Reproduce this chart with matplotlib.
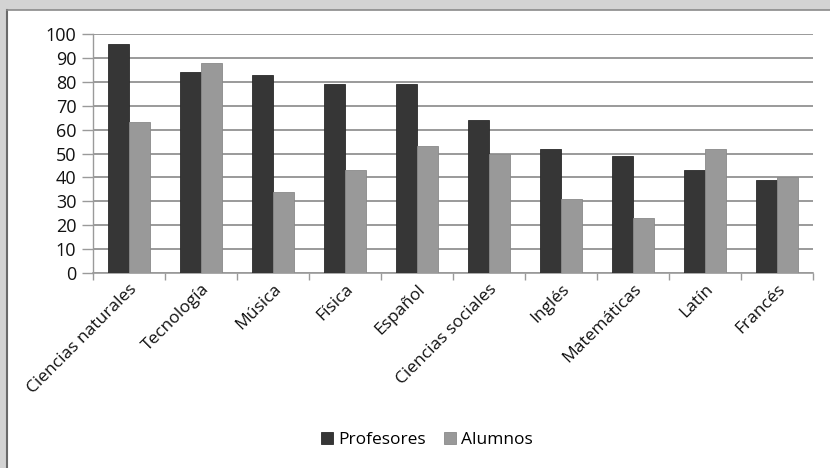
import matplotlib
matplotlib.use("Agg")
import matplotlib.pyplot as plt
import numpy as np
from matplotlib.patches import Rectangle
from matplotlib.lines import Line2D

categories = ["Ciencias naturales", "Tecnología", "Música", "Física", "Español",
              "Ciencias sociales", "Inglés", "Matemáticas", "Latín", "Francés"]
profesores = [96, 84, 83, 79, 79, 64, 52, 49, 43, 39]
alumnos = [63, 88, 34, 43, 53, 50, 31, 23, 52, 40]
yticks = list(range(0, 101, 10))

plt.rcParams['font.family'] = ['Open Sans', 'DejaVu Sans']

W, H = 830, 468
fig = plt.figure(figsize=(W/100, H/100), dpi=100)
fig.patch.set_facecolor('#d3d3d3')
# white panel
fig.patches.append(Rectangle((7/W, 0), 1 - 7/W, 1 - 10/H, transform=fig.transFigure,
                             facecolor='white', edgecolor='none', zorder=-10))
fig.lines.append(Line2D([7/W, 7/W], [0, 1 - 10/H], transform=fig.transFigure,
                        color='#6a6a6a', linewidth=1.5, zorder=-9))
fig.lines.append(Line2D([7/W, 1], [1 - 10/H, 1 - 10/H], transform=fig.transFigure,
                        color='#8a8a8a', linewidth=1.2, zorder=-9))

ax = fig.add_axes([93/W, 1 - 273/H, 720/W, 239/H])
ax.set_zorder(5)
ax.set_facecolor('none')
x = np.arange(len(categories))
bw = 0.29
ax.bar(x - bw/2, profesores, bw, color='#363636', edgecolor='#2a2a2a', linewidth=0.6,
       label='Profesores', zorder=3)
ax.bar(x + bw/2, alumnos, bw, color='#999999', edgecolor='#8a8a8a', linewidth=0.6,
       label='Alumnos', zorder=3)

ax.set_xlim(-0.5, len(categories) - 0.5)
ax.set_ylim(0, 100)
ax.set_yticks(yticks)
ax.set_yticklabels([str(v) for v in yticks], fontsize=13, color='#111111')
ax.yaxis.grid(True, color='#9a9a9a', linewidth=1.4, zorder=0)
ax.tick_params(axis='y', length=8, width=1, color='#9a9a9a', pad=4)

ax.set_xticks(np.arange(-0.5, len(categories) + 0.5, 1), minor=False)
ax.set_xticklabels([])
ax.set_xticks(x, minor=True)
ax.set_xticklabels(categories, minor=True, rotation=45, ha='right', rotation_mode='anchor',
                   fontsize=12.5, color='#111111')
ax.tick_params(axis='x', which='major', length=5, width=1, color='#9a9a9a', direction='out')
ax.tick_params(axis='x', which='minor', length=0, pad=6)

for s in ['top', 'right']:
    ax.spines[s].set_visible(False)
ax.spines['left'].set_color('#9a9a9a')
ax.spines['bottom'].set_color('#9a9a9a')
ax.spines['left'].set_linewidth(1)
ax.spines['bottom'].set_linewidth(1.2)

leg = fig.legend(loc='center', bbox_to_anchor=(427/W, 1 - 440/H), ncol=2, frameon=False,
                 fontsize=12.5, handlelength=0.7, handleheight=0.7, handletextpad=0.3,
                 columnspacing=1.0)

fig.savefig('out.png', dpi=100, facecolor=fig.get_facecolor())
